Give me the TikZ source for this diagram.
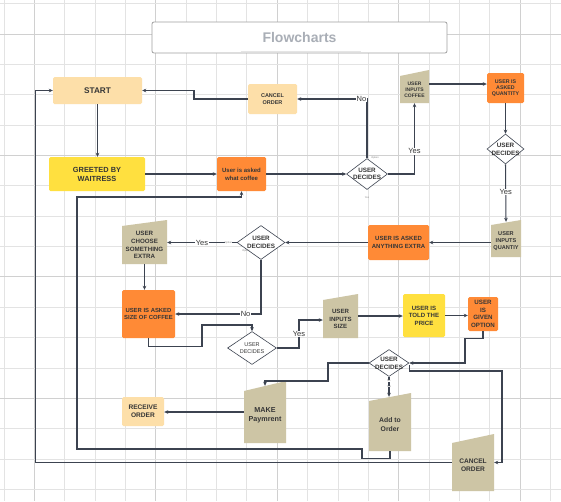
\documentclass[tikz,border=0pt]{standalone}
\usepackage{fontspec}
\setmainfont{Liberation Sans}
\usetikzlibrary{arrows.meta,shapes.geometric,fit,calc}
\definecolor{peach}{HTML}{FDDFA9}
\definecolor{yel}{HTML}{FFE03F}
\definecolor{org}{HTML}{FF8A36}
\definecolor{tanc}{HTML}{CDC5A5}
\definecolor{txt}{HTML}{363636}
\definecolor{ln}{HTML}{3C4350}
\definecolor{grd}{HTML}{E3E3E3}
\definecolor{grdd}{HTML}{D0D0D0}
\definecolor{ttl}{HTML}{A9AEB6}
\tikzset{
  box/.style={rectangle, rounded corners=1.5pt, inner sep=0pt, align=center, text=txt},
  dia/.style={diamond, draw=ln, line width=0.6pt, fill=white, inner sep=0pt},
  dtext/.style={align=center, text=txt, inner sep=0pt},
  mtext/.style={align=center, text=txt, inner sep=0pt},
  arr/.style={draw=ln, line width=1.05pt, -{Stealth[length=4pt,width=3.6pt]}},
  lbl/.style={fill=white, inner sep=0.6pt, text=txt, font=\fontsize{7.5}{8.5}\selectfont},
  tiny/.style={inner sep=0pt, text=gray, font=\fontsize{2.5}{3}\selectfont},
  fa/.style={font=\fontsize{5}{6}\selectfont\bfseries},
  fb/.style={font=\fontsize{5.5}{7}\selectfont\bfseries},
  fc/.style={font=\fontsize{6.1}{7.5}\selectfont\bfseries},
  fd/.style={font=\fontsize{6.6}{8}\selectfont\bfseries},
  fe/.style={font=\fontsize{7.2}{9.2}\selectfont\bfseries},
}
\newcommand\maninp[8]{%
  \fill[tanc] (#3,#5) -- (#4,#6) -- (#4,#7) -- (#3,#7) -- cycle;
  \node[fit={(#3,#6) (#4,#7)}, inner sep=0pt] (#2) {};
  \node[mtext,#1] (#2-t) at ($(#2.center)+(0,3)$) {#8};
}
\begin{document}
\begin{tikzpicture}[x=1pt,y=-1pt]
\useasboundingbox (0,0) rectangle (561,501);
\fill[white] (0,0) rectangle (561,501);
% grid
\foreach \k in {0,...,18}{
  \pgfmathsetmacro\xx{4+30.35*\k}
  \pgfmathtruncatemacro\m{mod(\k,4)}
  \ifnum\m=1 \draw[grdd,line width=0.8pt] (\xx,0) -- (\xx,501);
  \else \draw[grd,line width=0.7pt] (\xx,0) -- (\xx,501); \fi
}
\foreach \k in {0,...,16}{
  \pgfmathsetmacro\yy{3.65+30.35*\k}
  \pgfmathtruncatemacro\m{mod(\k,4)}
  \ifnum\m=1 \draw[grdd,line width=0.8pt] (0,\yy) -- (561,\yy);
  \else \draw[grd,line width=0.7pt] (0,\yy) -- (561,\yy); \fi
}
% title
\node[draw=gray!75, fill=white, rounded corners=2pt, line width=0.8pt, minimum width=295pt, minimum height=31pt, text=ttl, font=\fontsize{14}{16}\selectfont\bfseries] (title) at (299.5,37.5) {Flowcharts};
\draw[gray!20, line width=1pt] ($(title.south)+(-59,-1.5)$) -- ($(title.south)+(61,-1.5)$);

% rectangle nodes
\node[box, fill=peach, minimum width=89pt, minimum height=27pt, font=\fontsize{8.2}{9}\selectfont\bfseries] (start) at (97.5,90.5) {START};
\node[box, fill=yel, minimum width=96pt, minimum height=34pt, font=\fontsize{7.4}{9}\selectfont\bfseries] (greet) at (97,174) {GREETED BY\\WAITRESS};
\node[box, fill=org, minimum width=49pt, minimum height=34pt, font=\fontsize{6}{8}\selectfont\bfseries] (whatc) at (241.5,174) {User is asked\\what coffee};
\node[box, fill=peach, minimum width=49pt, minimum height=30pt, fb] (canc1) at (272.5,99) {CANCEL\\ORDER};
\node[box, fill=org, minimum width=37pt, minimum height=30pt, font=\fontsize{5.3}{6.3}\selectfont\bfseries] (uaq) at (505.5,88) {USER IS\\ASKED\\QUANTITY};
\node[box, fill=org, minimum width=61pt, minimum height=35pt, font=\fontsize{6}{8}\selectfont\bfseries] (uae) at (398.5,242.5) {USER IS ASKED\\ANYTHING EXTRA};
\node[box, fill=org, minimum width=53pt, minimum height=48pt, font=\fontsize{5.9}{7.3}\selectfont\bfseries] (size) at (148.5,314) {USER IS ASKED\\SIZE OF COFFEE};
\node[box, fill=yel, minimum width=42pt, minimum height=43pt, fc] (price) at (424,315.5) {USER IS\\TOLD THE\\PRICE};
\node[box, fill=org, minimum width=30pt, minimum height=34pt, font=\fontsize{6.2}{7.6}\selectfont\bfseries] (opt) at (483,314) {USER\\IS\\GIVEN\\OPTION};
\node[box, fill=peach, minimum width=42pt, minimum height=29pt, fd] (recv) at (143,411.5) {RECEIVE\\ORDER};

% manual input nodes
\maninp{fa}{uic}{400}{429}{76}{70}{103}{USER\\INPUTS\\COFFEE}
\maninp{font=\fontsize{5.6}{7}\selectfont\bfseries}{uiq}{491}{521}{225}{220}{257}{USER\\INPUTS\\QUANTIY}
\maninp{font=\fontsize{6.2}{7.7}\selectfont\bfseries}{ucs}{122}{167}{226}{220}{264}{USER\\CHOOSE\\SOMETHING\\EXTRA}
\maninp{fc}{uis}{323}{358}{300}{294}{338}{USER\\INPUTS\\SIZE}
\maninp{fe}{make}{244}{286}{391}{381}{443}{MAKE\\Paymrent}
\maninp{font=\fontsize{6.8}{9}\selectfont\bfseries}{add}{369}{411}{401}{393}{451}{Add to\\Order}
\maninp{fd}{canc2}{452}{494}{443}{434}{491}{CANCEL\\ORDER}

% diamonds
\node[dia, minimum width=41pt, minimum height=31pt] (d1) at (367,174) {};
\node[dtext, font=\fontsize{6.3}{7.4}\selectfont\bfseries] (d1-t) at (d1) {USER\\DECIDES};
\node[dia, minimum width=37pt, minimum height=30pt] (d2) at (505.5,149) {};
\node[dtext, font=\fontsize{6.3}{7.7}\selectfont\bfseries] (d2-t) at (d2) {USER\\DECIDES};
\node[dia, minimum width=48pt, minimum height=34pt] (d3) at (261,242.5) {};
\node[dtext, font=\fontsize{6.3}{8}\selectfont\bfseries] (d3-t) at (d3) {USER\\DECIDES};
\node[dia, minimum width=49pt, minimum height=33pt] (d4) at (252,348) {};
\node[dtext, font=\fontsize{5.5}{7.3}\selectfont] (d4-t) at (d4) {USER\\DECIDES};
\node[dia, minimum width=40pt, minimum height=27pt] (d5) at (389,363) {};
\node[dtext, font=\fontsize{6.3}{7.7}\selectfont\bfseries] (d5-t) at (d5) {USER\\DECIDES};

% connectors
\draw[arr] (start.south) -- (start.south |- greet.north);
\draw[arr] (greet.east) -- (greet.east -| whatc.west);
\draw[arr] (whatc.east) -- (d1.west);
\draw[arr] (d1.north) |- node[lbl, pos=0.54] {No} (canc1.east);
\draw[arr] (canc1.west) -- (194,99) |- (start.east);
\draw[arr] (d1.east) -| node[lbl, pos=0.66] {Yes} (uic.south);
\draw[arr] ([yshift=2.5pt]uic.east) -- ([yshift=2.5pt]uic.east -| uaq.west);
\draw[arr] (uaq.south) -- (d2.north);
\draw[arr] (d2.south) -- node[lbl, pos=0.48] {Yes} ([yshift=-2pt]uiq.north);
\draw[arr] (uiq.west |- uae.east) -- (uae.east);
\draw[arr] (uae.west) -- (d3.east);
\draw[arr] (d3.west) -- node[lbl, pos=0.5] {Yes} node[tiny, fill=white, pos=0.12] {Option} (d3.west -| ucs.east);
\draw[arr] (ucs.south) -- (ucs.south |- size.north);
\draw[arr] (d3.south) |- node[lbl, pos=0.59] {No} (size.east);
\draw[arr] (size.south) -- ++(0,8) -| (202,325) -| (d4.north);
\draw[arr] (d4.east) -- (299,348) |- node[lbl, pos=0.25] {Yes} ([yshift=-4pt]uis.west);
\draw[arr] (uis.east) -- (uis.east -| price.west);
\draw[arr] (price.east) -- (price.east -| opt.west);
\draw[arr] (opt.south) -- ++(0,7) -| (465,363) -- (d5.east);
\draw[arr] (d5.west) -- (328,363) |- (265,381) -- ([yshift=-5pt]make.north);
\draw[arr] (make.west) -- (make.west -| recv.east);
\draw[arr] (d5.south) -- ($(d5.south |- add.north)+(0,4)$);
\draw[arr] (add.south) -- ++(0,7) -| (362,449) -| (77,197) -| (whatc.south);
\draw[arr] ([yshift=-2pt]d5.east) |- (502,371) |- (canc2.east);
\draw[arr] (canc2.west) -| ($(start.west)+(-17,0)$) -- (start.west);

% tiny option labels
\node[tiny] (t1) at (375,157.5) {Option};
\node[tiny] (t2) at (367,198) {Yes};
\node[tiny] (t3) at (246,250.5) {Option};
\node[tiny, fill=white] (t4) at (389,381) {No};
\node[tiny, fill=white] (t5) at (389,386.5) {Yes};
\end{tikzpicture}
\end{document}
